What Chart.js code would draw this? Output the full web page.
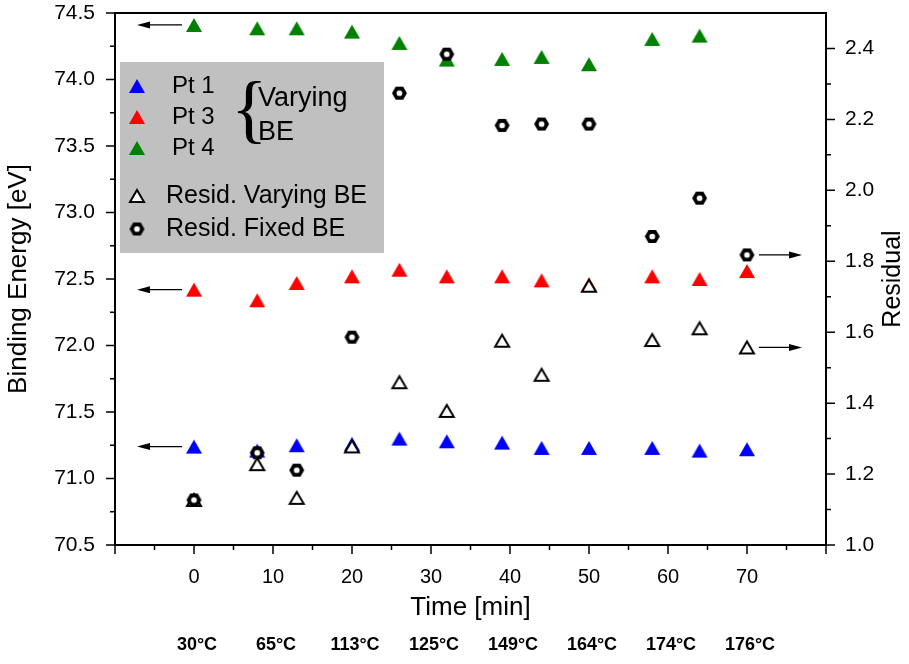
<!DOCTYPE html>
<html>
<head>
<meta charset="utf-8">
<script src="https://cdn.jsdelivr.net/npm/chart.js@4.4.1/dist/chart.umd.min.js"></script>
<style>
  html, body { margin: 0; padding: 0; background: #fff; }
  canvas { display: block; }
</style>
</head>
<body>
<canvas id="chart" width="909" height="664"></canvas>
<script>
// heating run: time (min) and the furnace temperature at each 10 min mark
const times = [0, 8, 13, 20, 26, 32, 39, 44, 50, 58, 64, 70];
const tempTicks = [0, 10, 20, 30, 40, 50, 60, 70];
const tempLabels = ['30°C', '65°C', '113°C', '125°C', '149°C', '164°C', '174°C', '176°C'];

// Pt 4f binding energies (eV), varying-BE fit
const pt1 = [71.24, 71.21, 71.25, 71.26, 71.30, 71.28, 71.27, 71.23, 71.23, 71.23, 71.21, 71.22];
const pt3 = [72.42, 72.34, 72.47, 72.52, 72.57, 72.52, 72.52, 72.49, 72.46, 72.52, 72.50, 72.56];
const pt4 = [74.41, 74.385, 74.385, 74.36, 74.275, 74.15, 74.155, 74.17, 74.115, 74.305, 74.33];

// fit residuals
const residVarying = [1.127, 1.228, 1.133, 1.278, 1.459, 1.378, 1.576, 1.48, 1.731, 1.578, 1.611, 1.557];
const residFixed = [1.127, 1.26, 1.211, 1.586, 2.274, 2.384, 2.183, 2.187, 2.187, 1.87, 1.978, 1.818];

const FONT = '"Liberation Sans", Arial, sans-serif';
Chart.defaults.font.family = FONT;
Chart.defaults.color = '#000';

const xy = ys => ys.map((y, i) => ({ x: times[i], y }));

// Origin-like symbols: centred on their bounding box, not on the centroid
function triMarker(w, h, fill, stroke, lw) {
  const c = document.createElement('canvas');
  const pad = lw + 1;
  c.width = Math.ceil(w + pad * 2);
  c.height = Math.ceil(h + pad * 2);
  const g = c.getContext('2d');
  const cx = c.width / 2, cy = c.height / 2;
  g.beginPath();
  g.moveTo(cx, cy - h / 2);
  g.lineTo(cx + w / 2, cy + h / 2);
  g.lineTo(cx - w / 2, cy + h / 2);
  g.closePath();
  g.fillStyle = fill;
  g.fill();
  if (lw) { g.lineWidth = lw; g.strokeStyle = stroke; g.lineJoin = 'miter'; g.stroke(); }
  return c;
}

function hexMarker(r) {
  const c = document.createElement('canvas');
  const s = Math.ceil(r * 2 + 2);
  c.width = s; c.height = s;
  const g = c.getContext('2d');
  g.fillStyle = '#000';
  g.beginPath();
  for (let k = 0; k < 6; k++) {
    const a = Math.PI / 3 * k;
    g.lineTo(s / 2 + r * Math.cos(a), s / 2 + r * Math.sin(a));
  }
  g.closePath();
  g.fill();
  g.fillStyle = '#fff';
  g.beginPath();
  g.arc(s / 2, s / 2, r * 0.38, 0, Math.PI * 2);
  g.fill();
  return c;
}

const triBlue = triMarker(16, 14, '#0000ff', null, 0);
const triRed = triMarker(16, 14, '#ff0000', null, 0);
const triGreen = triMarker(16, 14, '#008000', null, 0);
const triOpen = triMarker(14, 12, '#fff', '#000', 2);
const hex = hexMarker(7.5);

function arrow(ctx, x1, y, x2) {
  const d = Math.sign(x2 - x1);
  ctx.beginPath();
  ctx.moveTo(x1, y);
  ctx.lineTo(x2 - d * 10, y);
  ctx.stroke();
  ctx.beginPath();
  ctx.moveTo(x2, y);
  ctx.lineTo(x2 - d * 13, y - 3.5);
  ctx.lineTo(x2 - d * 13, y + 3.5);
  ctx.closePath();
  ctx.fill();
}

// vertical axes: no extra room for the half-height of the top label
function fixedWidth(w) {
  return s => { s.width = w; s.paddingTop = 0; s.paddingBottom = 0; };
}

// frame, Origin-style outward ticks, arrows, temperatures, right title
const decorations = {
  id: 'decorations',
  afterDatasetsDraw(chart) {
    const { ctx } = chart;
    ctx.save();
    ctx.strokeStyle = '#000';
    ctx.fillStyle = '#000';
    ctx.lineWidth = 1.3;
    // arrows point each series at its axis
    [0, 1, 2].forEach(i => {
      const p = chart.getDatasetMeta(i).data[0];
      arrow(ctx, p.x - 12, p.y, p.x - 57);
    });
    [3, 4].forEach(i => {
      const pts = chart.getDatasetMeta(i).data;
      const p = pts[pts.length - 1];
      arrow(ctx, p.x + 12, p.y, p.x + 55);
    });
    ctx.restore();
  },
  afterDraw(chart) {
    const { ctx, chartArea: a, scales } = chart;
    ctx.save();
    ctx.strokeStyle = '#000';
    ctx.lineWidth = 2;
    ctx.strokeRect(a.left, a.top, a.right - a.left, a.bottom - a.top);
    ctx.lineWidth = 1.5;
    ctx.beginPath();
    for (let k = 0; k <= 18; k++) {
      const px = scales.x.getPixelForValue(-10 + 5 * k);
      const len = k % 2 === 0 ? 9 : 5;
      ctx.moveTo(px, a.bottom); ctx.lineTo(px, a.bottom + len);
    }
    for (let k = 0; k <= 16; k++) {
      const py = scales.y.getPixelForValue(70.5 + 0.25 * k);
      const len = k % 2 === 0 ? 9 : 5;
      ctx.moveTo(a.left, py); ctx.lineTo(a.left - len, py);
    }
    for (let k = 0; k <= 14; k++) {
      const py = scales.y1.getPixelForValue(1.0 + 0.1 * k);
      const len = k % 2 === 0 ? 9 : 5;
      ctx.moveTo(a.right, py); ctx.lineTo(a.right + len, py);
    }
    ctx.stroke();

    ctx.fillStyle = '#000';
    ctx.textAlign = 'center';
    ctx.textBaseline = 'middle';
    ctx.font = 'bold 18px ' + FONT;
    tempTicks.forEach((t, i) => {
      ctx.fillText(tempLabels[i], scales.x.getPixelForValue(t) + 3, 645);
    });

    ctx.font = '25px ' + FONT;
    ctx.translate(893, (a.top + a.bottom) / 2);
    ctx.rotate(-Math.PI / 2);
    ctx.fillText('Residual', 0, 0);
    ctx.restore();
  }
};

// grey legend box with the brace grouping the three Pt series
const legendBox = {
  id: 'legendBox',
  afterDatasetsDraw(chart) {
    const { ctx } = chart;
    const ds = chart.data.datasets;
    ctx.save();
    ctx.fillStyle = '#c0c0c0';
    ctx.fillRect(120, 62, 264, 191);
    ctx.textBaseline = 'middle';
    ctx.textAlign = 'left';
    const rows = [
      { i: 0, y: 86, tx: 172, size: 24 },
      { i: 1, y: 117, tx: 172, size: 24 },
      { i: 2, y: 148, tx: 172, size: 24 },
      { i: 4, y: 196, tx: 166, size: 25 },
      { i: 3, y: 229, tx: 166, size: 25 }
    ];
    rows.forEach(r => {
      const d = ds[r.i];
      Chart.helpers.drawPoint(ctx, { pointStyle: d.pointStyle, radius: d.pointRadius, rotation: 0 }, 137, r.y);
      ctx.fillStyle = '#000';
      ctx.font = r.size + 'px ' + FONT;
      ctx.fillText(d.label, r.tx, r.y);
    });
    ctx.font = '76px "Liberation Serif", serif';
    ctx.fillText('{', 231, 114);
    ctx.font = '27px ' + FONT;
    ctx.fillText('Varying', 258, 99);
    ctx.fillText('BE', 258, 133);
    ctx.restore();
  }
};

new Chart(document.getElementById('chart'), {
  type: 'scatter',
  data: {
    datasets: [
      { label: 'Pt 1', data: xy(pt1), yAxisID: 'y', pointStyle: triBlue, pointRadius: 8, order: 4 },
      { label: 'Pt 3', data: xy(pt3), yAxisID: 'y', pointStyle: triRed, pointRadius: 8, order: 3 },
      { label: 'Pt 4', data: xy(pt4), yAxisID: 'y', pointStyle: triGreen, pointRadius: 8, order: 2 },
      { label: 'Resid. Fixed BE', data: xy(residFixed), yAxisID: 'y1', pointStyle: hex, pointRadius: 8, order: 0 },
      { label: 'Resid. Varying BE', data: xy(residVarying), yAxisID: 'y1', pointStyle: triOpen, pointRadius: 8, order: 1 }
    ]
  },
  options: {
    responsive: false,
    animation: false,
    events: [],
    layout: { padding: { top: 13, left: 0, right: 0, bottom: 0 } },
    plugins: { legend: { display: false }, tooltip: { enabled: false } },
    scales: {
      x: {
        type: 'linear', min: -10, max: 80,
        afterFit(s) { s.height = 119; },
        grid: { display: false }, border: { display: false },
        ticks: {
          stepSize: 10, padding: 12, autoSkip: false, maxRotation: 0,
          font: { size: 20 },
          callback: v => (v < 0 || v > 70) ? '' : v
        },
        title: { display: true, text: 'Time [min]', font: { size: 26 }, padding: { top: 0, bottom: 41 } }
      },
      y: {
        position: 'left', min: 70.5, max: 74.5,
        afterFit: fixedWidth(115),
        grid: { display: false }, border: { display: false },
        ticks: { stepSize: 0.5, padding: 12, font: { size: 21 }, callback: v => v.toFixed(1) },
        title: { display: true, text: 'Binding Energy [eV]', font: { size: 26 }, padding: { top: 3, bottom: 0 } }
      },
      y1: {
        position: 'right', min: 1.0, max: 2.5,
        afterFit: fixedWidth(83),
        grid: { display: false }, border: { display: false },
        ticks: {
          stepSize: 0.2, padding: 11, font: { size: 21 },
          callback: v => Math.abs(v * 5 - Math.round(v * 5)) < 1e-6 ? v.toFixed(1) : ''
        }
      }
    }
  },
  plugins: [decorations, legendBox]
});
</script>
</body>
</html>
